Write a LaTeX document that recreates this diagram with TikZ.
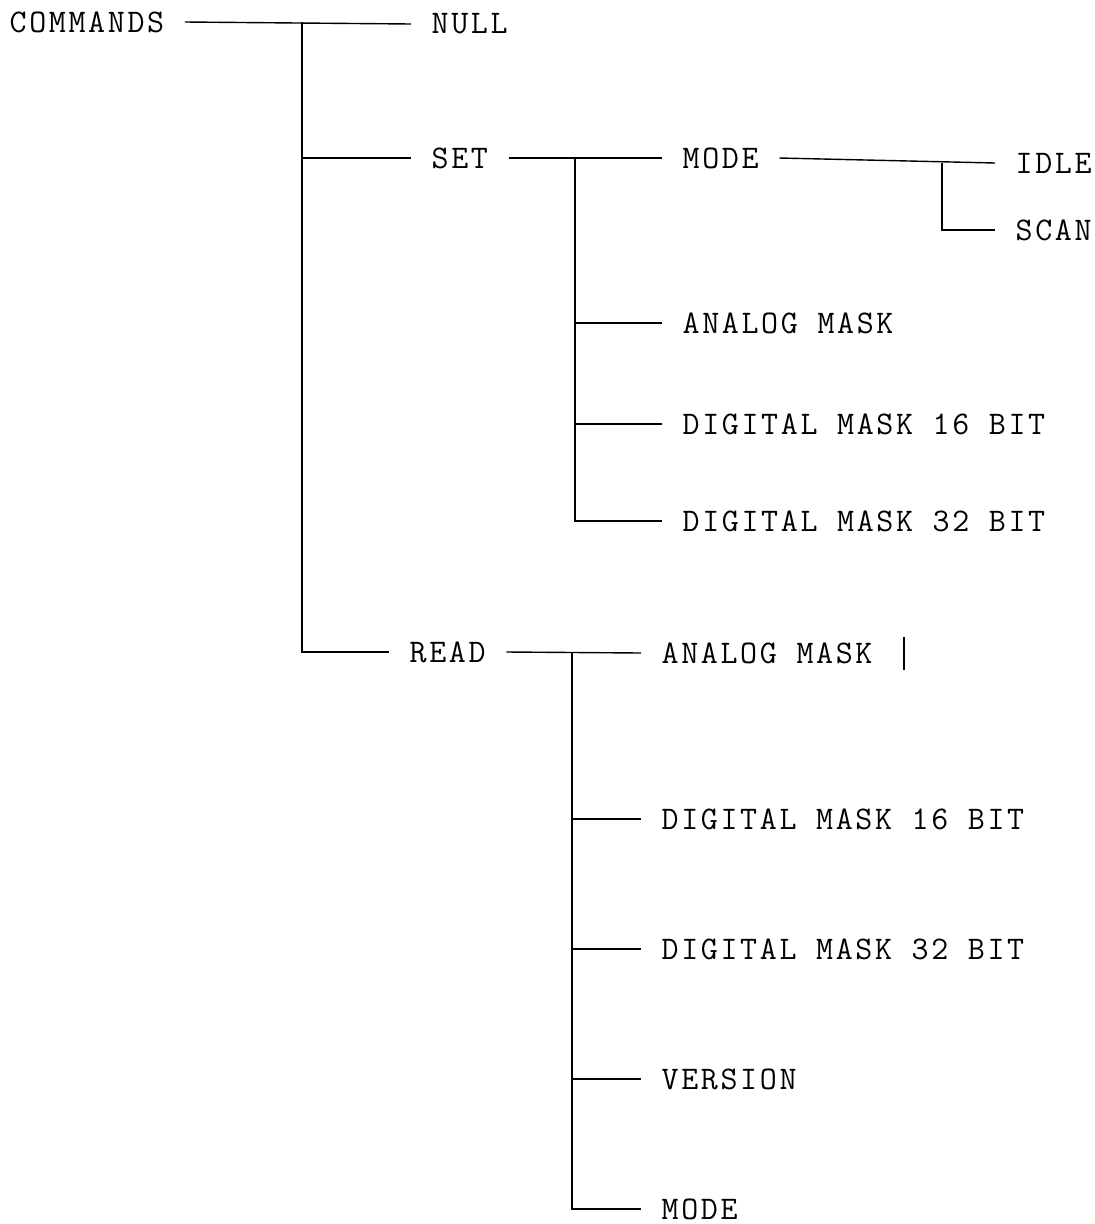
\documentclass[tikz,border=0pt]{standalone}
\usepackage{fontspec}
\newfontfamily\typefont{Latin Modern Mono}[LetterSpace=8]
\begin{document}
\begin{tikzpicture}[x=1pt,y=-1pt,line width=1.4pt,
    item/.style={anchor=west,inner xsep=20pt,inner ysep=2pt,
      font=\typefont\fontsize{33}{38}\selectfont}]
        \useasboundingbox (0,0) rectangle (1095,1224);
        
        \node[item] (cmd) at (-11,22) {COMMANDS};
        \node[item] (null) at (411,24) {NULL};
        \node[item] (set) at (411,158) {SET};
        \node[item] (read) at (389,652) {READ};
        
        \node[item] (mode) at (662,158) {MODE};
        \node[item] (idle) at (995,163) {IDLE};
        \node[item] (scan) at (995,230) {SCAN};
        \node[item] (sam) at (662,323) {ANALOG MASK};
        \node[item] (sd16) at (662,424) {DIGITAL MASK 16 BIT};
        \node[item] (sd32) at (662,521) {DIGITAL MASK 32 BIT};
        
        \node[item] (ram) at (641,653) {ANALOG MASK};
        \node[item] (rd16) at (641,819) {DIGITAL MASK 16 BIT};
        \node[item] (rd32) at (641,949) {DIGITAL MASK 32 BIT};
        \node[item] (ver) at (641,1079) {VERSION};
        \node[item] (rmode) at (641,1209) {MODE};
        
        \coordinate (t0) at (302,0);
        \coordinate (t1) at (575,0);
        \coordinate (t2) at (572,0);
        \coordinate (t3) at (942,0);
        
        \draw (cmd.east) -- (null.west);
        \draw (cmd.east -| t0) |- (read.west);
        \draw (t0 |- set.west) -- (set.west);
        
        \draw (set.east) -- (mode.west);
        \draw (set.east -| t1) |- (sd32.west);
        \foreach \n in {sam,sd16} {
            \draw (t1 |- \n.west) -- (\n.west);
        }
        \draw (mode.east) -- (idle.west);
        \draw (idle.west -| t3) |- (scan.west);
        
        \draw (read.east) -- (ram.west);
        \draw (read.east -| t2) |- (rmode.west);
        \foreach \n in {rd16,rd32,ver} {
            \draw (t2 |- \n.west) -- (\n.west);
        }
        
        \draw (904,637) -- (904,670);
    \end{tikzpicture}
\end{document}
